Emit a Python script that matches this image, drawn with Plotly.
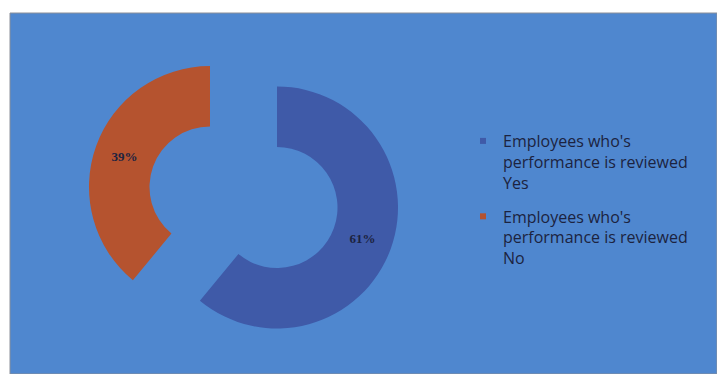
import plotly.graph_objects as go

# Survey result: share of employees whose performance is reviewed
labels = [
    "Employees who's<br>performance is reviewed<br>Yes",
    "Employees who's<br>performance is reviewed<br>No",
]
values = [61, 39]
colors = ["#3f5aa8", "#b5532f"]

panel_bg = "#4f87cf"
text_dark = "#1c2340"
W, H = 717, 374
R = 121  # ring outer radius in px


def domain(cx, cy, r):
    """Square pie domain (paper fractions) centred at pixel (cx, cy from top)."""
    return dict(
        x=[(cx - r) / W, (cx + r) / W],
        y=[(H - cy - r) / H, (H - cy + r) / H],
    )


label_font = dict(family="Liberation Serif", size=13, color=text_dark)

fig = go.Figure()

# Main ring: the "Yes" slice stays in place
fig.add_trace(go.Pie(
    labels=labels, values=values, sort=False, direction="clockwise", rotation=0,
    hole=0.5,
    marker=dict(colors=[colors[0], "rgba(0,0,0,0)"], line=dict(width=0)),
    texttemplate=["<b>%{percent:.0%}</b>", ""], textposition="inside",
    insidetextorientation="horizontal", textfont=label_font,
    domain=domain(277, 207.5, R), showlegend=False, hoverinfo="label+percent",
))

# Exploded "No" slice, pulled out towards the upper left
fig.add_trace(go.Pie(
    labels=labels, values=values, sort=False, direction="clockwise", rotation=0,
    hole=0.5,
    marker=dict(colors=["rgba(0,0,0,0)", colors[1]], line=dict(width=0)),
    texttemplate=["", "<b>%{percent:.0%}</b>"], textposition="inside",
    insidetextorientation="horizontal", textfont=label_font,
    domain=domain(210, 187, R), showlegend=False, hoverinfo="label+percent",
))

# Legend entries
for lab, col in zip(labels, colors):
    fig.add_trace(go.Scatter(
        x=[None], y=[None], mode="markers", name=lab,
        marker=dict(symbol="square", size=6, color=col),
        legendgroup=lab,
    ))

fig.update_layout(
    width=W, height=H,
    margin=dict(l=0, r=0, t=0, b=0),
    paper_bgcolor="white",
    plot_bgcolor="rgba(0,0,0,0)",
    xaxis=dict(visible=False),
    yaxis=dict(visible=False),
    showlegend=True,
    legend=dict(
        x=463 / W, y=1 - 124 / H, xanchor="left", yanchor="top",
        bgcolor="rgba(0,0,0,0)", valign="top",
        font=dict(family="Open Sans", size=16, color=text_dark),
        tracegroupgap=10, itemwidth=30,
    ),
    shapes=[dict(
        type="rect", xref="paper", yref="paper", layer="below",
        x0=10 / W, x1=1, y0=0, y1=1 - 13 / H,
        fillcolor=panel_bg, line=dict(color="#8a8f99", width=1),
    )],
)

fig.write_html("out.html")
